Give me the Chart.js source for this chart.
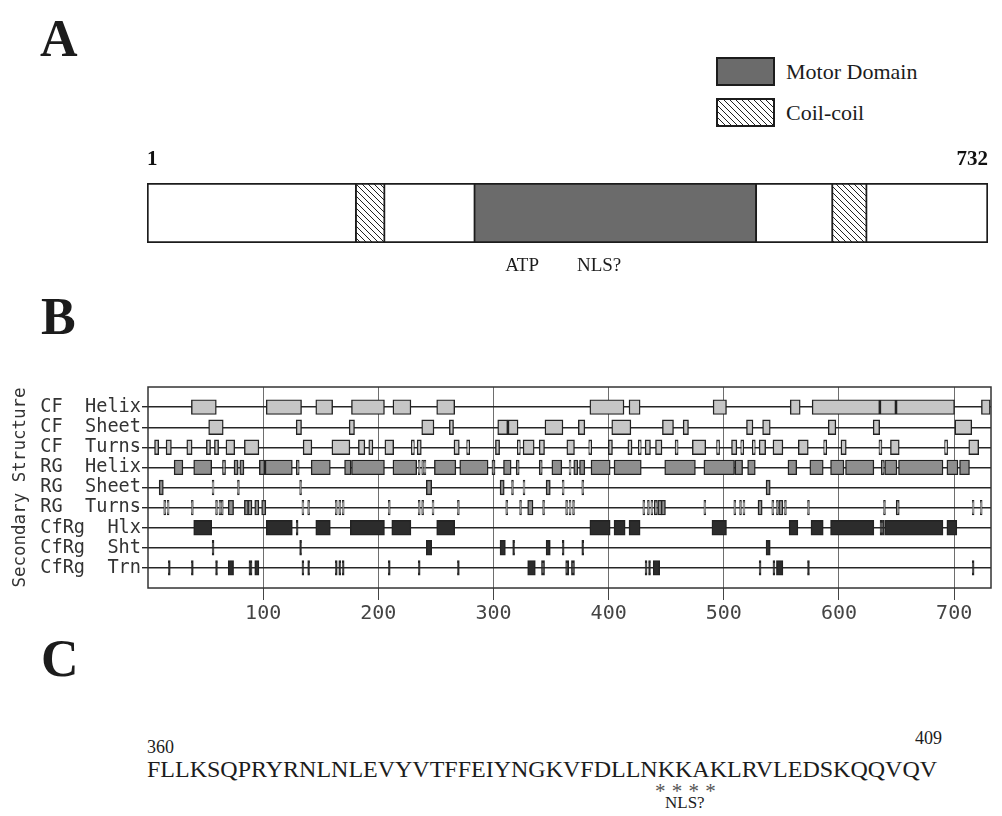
<!DOCTYPE html>
<html>
<head>
<meta charset="utf-8">
<script src="https://cdn.jsdelivr.net/npm/chart.js@4.4.1/dist/chart.umd.min.js"></script>
<style>
  body { margin: 0; background: #fff; width: 1002px; height: 816px; position: relative; overflow: hidden;
         font-family: "Liberation Serif", serif; color: #1c1c1c; }
  .abs { position: absolute; white-space: pre; }
  .panel { font-weight: bold; font-size: 52px; line-height: 52px; }
  .swatch { width: 55px; height: 25px; border: 2px solid #1c1c1c; }
  .legtext { font-size: 22px; line-height: 22px; }
</style>
</head>
<body>
<div class="abs panel" style="left:40px; top:13px">A</div>
<div class="abs panel" style="left:41px; top:291px">B</div>
<div class="abs panel" style="left:41px; top:633px">C</div>

<!-- legend of panel A -->
<div class="abs swatch" id="swMotor" style="left:716px; top:57px"></div>
<div class="abs legtext" style="left:786px; top:61px">Motor Domain</div>
<div class="abs swatch" id="swCoil" style="left:716px; top:98px"></div>
<div class="abs legtext" style="left:786px; top:102px">Coil-coil</div>

<canvas id="domains" class="abs" width="1002" height="140" style="left:0; top:140px"></canvas>
<canvas id="structure" class="abs" width="1002" height="262" style="left:0; top:370px"></canvas>

<!-- panel C -->
<div class="abs" style="left:147px; top:738px; font-size:18px; line-height:18px">360</div>
<div class="abs" style="left:915px; top:729px; font-size:18px; line-height:18px">409</div>
<div class="abs" style="left:147px; top:757px; font-size:24px; line-height:24px">FLLKSQPRYRNLNLEVYVTFFEIYNGKVFDLLNKKAKLRVLEDSKQQVQV</div>
<div class="abs" style="left:655px; top:781px; font-size:21px; line-height:21px; letter-spacing:0.5px; color:#555">* * * *</div>
<div class="abs" style="left:665px; top:794px; font-size:17px; line-height:17px">NLS?</div>

<script>
// ---- panel A: domain map ----
const proteinSpan = [1, 732];
const motorDomain = [[285, 531]];
const coilCoils = [[182, 208], [596, 627]];
const endTicks = [1, 732];
const siteNames = ["ATP", "NLS?"];
const sitePositions = [327, 394];

// ---- panel B: secondary structure predictions ----
const rowLabels = ["CF  Helix", "CF  Sheet", "CF  Turns", "RG  Helix", "RG  Sheet", "RG  Turns", "CfRg  Hlx", "CfRg  Sht", "CfRg  Trn"];
const axisTicks = [100, 200, 300, 400, 500, 600, 700];

const cfHelix = [[38,59],[103,133],[146,160],[177,205],[213,228],[251,266],[384,413],[418,427],[491,502],[558,566],[577,635],[636,649],[650,700],[724,731]];
const cfSheet = [[53,65],[129,133],[175,179],[238,248],[262,265],[304,312],[313,321],[345,360],[374,379],[403,419],[447,456],[465,469],[520,525],[534,540],[591,597],[630,635],[701,715]];
const cfTurns = [[6,9],[16,20],[34,38],[51,54],[58,61],[68,75],[84,96],[135,142],[160,175],[183,188],[192,195],[206,213],[229,231],[234,237],[266,270],[277,279],[302,305],[321,323],[326,335],[340,344],[364,370],[383,385],[400,403],[417,420],[426,428],[432,436],[441,446],[458,460],[473,484],[494,496],[507,511],[515,517],[525,527],[531,536],[543,551],[565,573],[587,589],[602,606],[635,637],[645,652],[692,694],[713,721]];
const rgHelix = [[23,30],[40,55],[65,67],[75,78],[80,83],[97,101],[102,125],[129,131],[142,158],[171,176],[177,205],[213,233],[235,236],[238,239],[240,241],[249,267],[271,295],[299,301],[309,315],[320,322],[340,342],[351,359],[366,367],[370,373],[375,379],[385,401],[405,428],[449,475],[483,509],[510,516],[521,527],[556,563],[575,586],[593,604],[606,630],[637,639],[640,650],[652,690],[694,703],[705,713]];
const rgSheet = [[10,13],[56,57],[78,79],[132,133],[242,246],[306,309],[316,317],[326,327],[346,349],[360,361],[377,378],[537,540]];
const rgTurns = [[14,15],[17,18],[38,39],[59,60],[62,63],[64,65],[70,74],[84,87],[87,90],[93,96],[99,102],[134,135],[139,140],[163,164],[166,167],[169,170],[209,210],[235,236],[238,239],[247,248],[269,270],[311,312],[323,324],[330,334],[343,344],[363,364],[366,367],[369,370],[430,431],[434,435],[437,438],[440,442],[443,446],[446,449],[483,484],[509,510],[514,515],[517,518],[530,533],[542,543],[546,547],[548,551],[553,554],[573,574],[639,640],[650,652],[716,717],[723,724]];
const cfrgHlx = [[40,55],[103,125],[129,130],[146,158],[176,205],[212,228],[251,266],[384,401],[405,414],[418,427],[490,502],[557,564],[576,586],[593,630],[636,637],[638,639],[640,690],[694,702]];
const cfrgSht = [[56,57],[132,133],[242,246],[306,310],[317,318],[346,349],[360,361],[377,378],[537,540]];
const cfrgTrn = [[18,19],[38,39],[59,60],[70,74],[88,90],[93,96],[134,135],[139,140],[163,164],[166,167],[169,170],[209,210],[235,236],[269,270],[330,336],[342,344],[363,365],[368,370],[432,433],[435,436],[439,444],[531,532],[543,544],[546,551],[573,574],[716,717]];

const rowSegments = [cfHelix, cfSheet, cfTurns, rgHelix, rgSheet, rgTurns, cfrgHlx, cfrgSht, cfrgTrn];
const rowFills = ["#c6c6c6", "#c6c6c6", "#c6c6c6", "#8e8e8e", "#8e8e8e", "#8e8e8e", "#2c2c2c", "#2c2c2c", "#2c2c2c"];

const MOTOR_GRAY = "#6b6b6b";

// diagonal hatch used for coil-coil
const makeHatch = () => {
  const c = document.createElement("canvas");
  c.width = 6; c.height = 6;
  const g = c.getContext("2d");
  g.fillStyle = "#fff";
  g.fillRect(0, 0, 6, 6);
  g.strokeStyle = "#222";
  g.lineWidth = 1;
  g.beginPath();
  g.moveTo(-1, -1); g.lineTo(7, 7);
  g.moveTo(-1, 5); g.lineTo(1, 7);
  g.moveTo(5, -1); g.lineTo(7, 1);
  g.stroke();
  return { pattern: g.createPattern(c, "repeat"), url: c.toDataURL() };
};
const hatch = makeHatch();
document.getElementById("swMotor").style.background = MOTOR_GRAY;
document.getElementById("swCoil").style.backgroundImage = "url(" + hatch.url + ")";

const toBars = (ranges, y) => ranges.map((r) => ({ x: r, y: y }));

// panel A chart
new Chart(document.getElementById("domains"), {
  type: "bar",
  data: {
    labels: ["protein"],
    datasets: [
      { label: "Motor Domain", data: toBars(motorDomain, "protein"), backgroundColor: MOTOR_GRAY, order: 0 },
      { label: "Coil-coil", data: toBars(coilCoils, "protein"), backgroundColor: hatch.pattern, order: 1 },
      { label: "protein", data: toBars([proteinSpan], "protein"), backgroundColor: "#fff", order: 2 },
    ],
  },
  options: {
    indexAxis: "y",
    responsive: false,
    animation: false,
    events: [],
    layout: { padding: { left: 147, right: 14, top: 0, bottom: 0 } },
    datasets: { bar: { grouped: false, barThickness: 60, borderColor: "#1c1c1c", borderWidth: 2, borderSkipped: false } },
    plugins: { legend: { display: false }, tooltip: { enabled: false } },
    scales: {
      x: {
        type: "linear", position: "top", min: proteinSpan[0], max: proteinSpan[1],
        afterBuildTicks: (s) => { s.ticks = endTicks.map((v) => ({ value: v })); },
        afterFit: (s) => { s.height = 43; s.paddingLeft = 0; s.paddingRight = 0; },
        ticks: { autoSkip: false, maxRotation: 0, padding: 11, color: "#111", align: "inner",
                 font: { family: "Liberation Serif", size: 21, weight: "bold" } },
        grid: { display: false, drawTicks: false },
        border: { display: false },
      },
      x2: {
        type: "linear", position: "bottom", min: proteinSpan[0], max: proteinSpan[1],
        afterBuildTicks: (s) => { s.ticks = sitePositions.map((v) => ({ value: v })); },
        afterFit: (s) => { s.height = 37; s.paddingLeft = 0; s.paddingRight = 0; },
        ticks: { autoSkip: false, maxRotation: 0, padding: 12, color: "#1c1c1c",
                 callback: (v, i) => siteNames[i],
                 font: { family: "Liberation Serif", size: 19 } },
        grid: { display: false, drawTicks: false },
        border: { display: false },
      },
      y: { type: "category", display: false },
    },
  },
});

// frame around the plot area of panel B
const frame = {
  id: "frame",
  afterDatasetsDraw(chart, args, opts) {
    const { ctx, chartArea: a } = chart;
    ctx.save();
    ctx.strokeStyle = opts.color;
    ctx.lineWidth = opts.width;
    ctx.strokeRect(a.left, a.top, a.right - a.left, a.bottom - a.top);
    ctx.restore();
  },
};

Chart.defaults.font.family = "'DejaVu Sans Mono', monospace";

new Chart(document.getElementById("structure"), {
  type: "bar",
  data: {
    datasets: rowSegments.map((segs, i) => ({
      label: rowLabels[i],
      data: toBars(segs, i + 1),
      backgroundColor: rowFills[i],
    })),
  },
  plugins: [frame],
  options: {
    indexAxis: "y",
    responsive: false,
    animation: false,
    events: [],
    layout: { padding: { left: 0, right: 11, top: 17, bottom: 0 } },
    datasets: { bar: { grouped: false, barThickness: 14, borderColor: "#222", borderWidth: 1.4,
                       borderSkipped: false, inflateAmount: 0.7 } },
    plugins: { legend: { display: false }, tooltip: { enabled: false }, frame: { color: "#333", width: 1.5 } },
    scales: {
      x: {
        type: "linear", min: 0, max: 732,
        afterBuildTicks: (s) => { s.ticks = axisTicks.map((v) => ({ value: v })); },
        afterFit: (s) => { s.height = 44; s.paddingLeft = 0; s.paddingRight = 0; },
        ticks: { autoSkip: false, maxRotation: 0, padding: 2, color: "#444", font: { size: 20 } },
        grid: { color: "#6e6e6e", lineWidth: 1, tickLength: 12, tickColor: "#444" },
        border: { display: false },
      },
      y: {
        type: "linear", min: 0, max: 10, reverse: true, offset: false,
        afterBuildTicks: (s) => { s.ticks = rowLabels.map((t, i) => ({ value: i + 1 })); },
        afterFit: (s) => { s.width = 148; },
        ticks: { autoSkip: false, padding: 1, color: "#333", font: { size: 18.6 },
                 callback: (v) => rowLabels[v - 1] },
        grid: { offset: false, color: "#262626", lineWidth: 1.4, tickLength: 6 },
        border: { display: false },
        title: { display: true, text: "Secondary Structure", color: "#333", font: { size: 17.5 },
                 padding: { top: 10, bottom: 0 } },
      },
    },
  },
});
</script>
</body>
</html>
